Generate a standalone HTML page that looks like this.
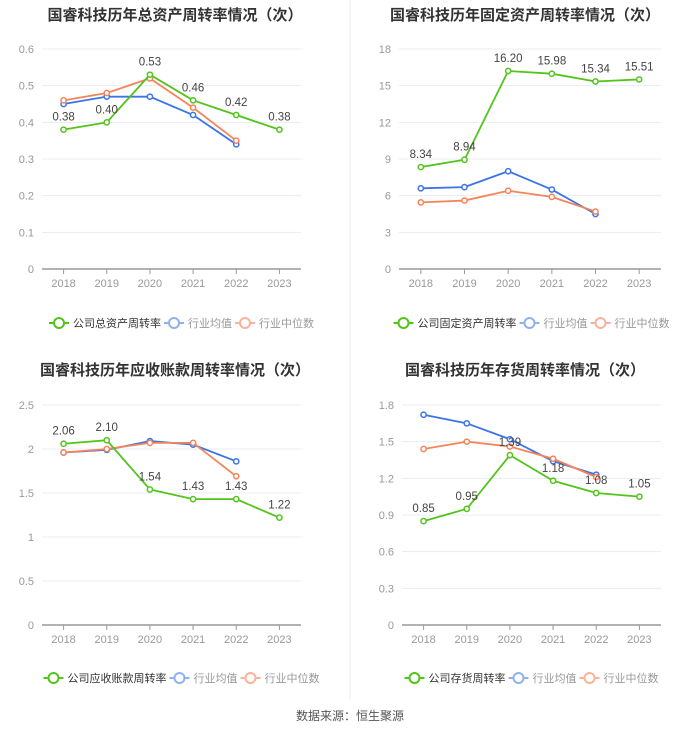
<!DOCTYPE html>
<html><head><meta charset="utf-8"><style>
body{margin:0;background:#fff;font-family:"Liberation Sans","Noto Sans CJK SC",sans-serif;}
#root{position:relative;width:700px;height:733px;overflow:hidden;}
svg{position:absolute;left:0;top:0}
</style></head><body>
<div id="root">
<svg id="svg" width="700" height="733"></svg>
</div>
<script>
const years = ["2018","2019","2020","2021","2022","2023"];
const titles = ["国睿科技历年总资产周转率情况（次）","国睿科技历年固定资产周转率情况（次）","国睿科技历年应收账款周转率情况（次）","国睿科技历年存货周转率情况（次）"];
const companyNames = ["公司总资产周转率","公司固定资产周转率","公司应收账款周转率","公司存货周转率"];
const totalAsset = [0.38,0.40,0.53,0.46,0.42,0.38];
const totalAssetAvg = [0.45,0.47,0.47,0.42,0.34];
const totalAssetMed = [0.46,0.48,0.52,0.44,0.35];
const fixedAsset = [8.34,8.94,16.20,15.98,15.34,15.51];
const fixedAssetAvg = [6.6,6.7,8.0,6.5,4.5];
const fixedAssetMed = [5.45,5.6,6.4,5.9,4.7];
const receivable = [2.06,2.10,1.54,1.43,1.43,1.22];
const receivableAvg = [1.96,1.99,2.09,2.05,1.86];
const receivableMed = [1.96,2.00,2.07,2.07,1.69];
const inventory = [0.85,0.95,1.39,1.18,1.08,1.05];
const inventoryAvg = [1.72,1.65,1.52,1.34,1.23];
const inventoryMed = [1.44,1.50,1.46,1.36,1.21];
const ticks1 = ["0","0.1","0.2","0.3","0.4","0.5","0.6"];
const ticks2 = ["0","3","6","9","12","15","18"];
const ticks3 = ["0","0.5","1","1.5","2","2.5"];
const ticks4 = ["0","0.3","0.6","0.9","1.2","1.5","1.8"];

const svg=document.getElementById('svg');
const NS="http://www.w3.org/2000/svg";
function mk(tag,attrs,parent){const e=document.createElementNS(NS,tag);for(const k in attrs)e.setAttribute(k,attrs[k]);(parent||svg).appendChild(e);return e;}

const panels=[
 {cx:175,ty:11,x0:42,x1:301,top:49,bot:269,ticks:ticks1,co:totalAsset,avg:totalAssetAvg,med:totalAssetMed,dec:2,ly:323,t:0},
 {cx:525,ty:11,x0:399,x1:661,top:49,bot:269,ticks:ticks2,co:fixedAsset,avg:fixedAssetAvg,med:fixedAssetMed,dec:2,ly:323,t:1},
 {cx:175,ty:366,x0:42,x1:301,top:405,bot:625,ticks:ticks3,co:receivable,avg:receivableAvg,med:receivableMed,dec:2,ly:678,t:2},
 {cx:525,ty:366,x0:402,x1:661,top:405,bot:625,ticks:ticks4,co:inventory,avg:inventoryAvg,med:inventoryMed,dec:2,ly:678,t:3}
];
let dv=mk('line',{x1:350,y1:0,x2:350,y2:700,stroke:'#eee','stroke-width':1});



panels.forEach((p,pi)=>{
 const g=mk('g',{});
 
 
 const tt=mk('text',{x:p.cx,y:p.ty+5,'text-anchor':'middle','font-size':'15','font-weight':'bold',fill:'#333','dominant-baseline':'middle'},g);
 tt.textContent=titles[p.t];
 
 
 const maxV=parseFloat(p.ticks[p.ticks.length-1]);
 const Y=v=>p.bot-(v/maxV)*(p.bot-p.top);
 const step=(p.x1-p.x0)/6;
 const X=i=>p.x0+step*(i+0.5);
 p.ticks.forEach(t=>{
  const v=parseFloat(t),y=Y(v);
  if(v>0){const gl=mk('line',{x1:p.x0,x2:p.x1,y1:y,y2:y,stroke:'#e8edf3','stroke-width':1},g);
   }
  const tl=mk('text',{x:p.x0-8,y:y+4,'text-anchor':'end','font-size':'11',fill:'#999'},g);
  tl.textContent=t;
  
 });
 const ax=mk('line',{x1:p.x0,x2:p.x1,y1:p.bot,y2:p.bot,stroke:'#999','stroke-width':1.5},g);
 
 years.forEach((yr,i)=>{
  mk('line',{x1:X(i),x2:X(i),y1:p.bot,y2:p.bot+5,stroke:'#999'},g);
  const xl=mk('text',{x:X(i),y:p.bot+18,'text-anchor':'middle','font-size':'11',fill:'#999'},g);
  xl.textContent=yr;
  
 });
 const series=[[p.avg,'#3a74e8','industry-average-line'],[p.med,'#f5845a','industry-median-line'],[p.co,'#52c41a','company-line']];
 series.forEach(([arr,col,name])=>{
  const pts=arr.map((v,i)=>X(i)+','+Y(v)).join(' ');
  const pl=mk('polyline',{points:pts,fill:'none',stroke:col,'stroke-width':1.8},g);
  
  arr.forEach((v,i)=>{
   const c=mk('circle',{cx:X(i),cy:Y(v),r:2.6,fill:'#fff',stroke:col,'stroke-width':1.5},g);
   
  });
 });
 p.co.forEach((v,i)=>{
  const lb=mk('text',{x:X(i),y:Y(v)-9,'text-anchor':'middle','font-size':'11.5',fill:'#444'},g);
  lb.textContent=v.toFixed(p.dec);
  
 });
 const names=[companyNames[p.t],'行业均值','行业中位数'];
 const cols=['#52c41a','#8fb1f2','#f9b39a'];
 const tcols=['#333','#999','#999'];
 const widths=names.map(n=>n.length*11+27);
 const total=widths.reduce((a,b)=>a+b,0);
 let lx=p.cx-total/2+8;
 names.forEach((n,k)=>{
  const lg=mk('g',{},g);
  
  mk('line',{x1:lx,x2:lx+20,y1:p.ly,y2:p.ly,stroke:cols[k],'stroke-width':2},lg);
  mk('circle',{cx:lx+10,cy:p.ly,r:5,fill:'#fff',stroke:cols[k],'stroke-width':2},lg);
  const lt=mk('text',{x:lx+24,y:p.ly+4,'font-size':'11',fill:tcols[k]},lg);
  lt.textContent=n;
  lx+=widths[k];
 });
});
const src=mk('text',{x:350,y:720,'text-anchor':'middle','font-size':'12',fill:'#555'});
src.textContent='数据来源：恒生聚源';


</script>
</body></html>
